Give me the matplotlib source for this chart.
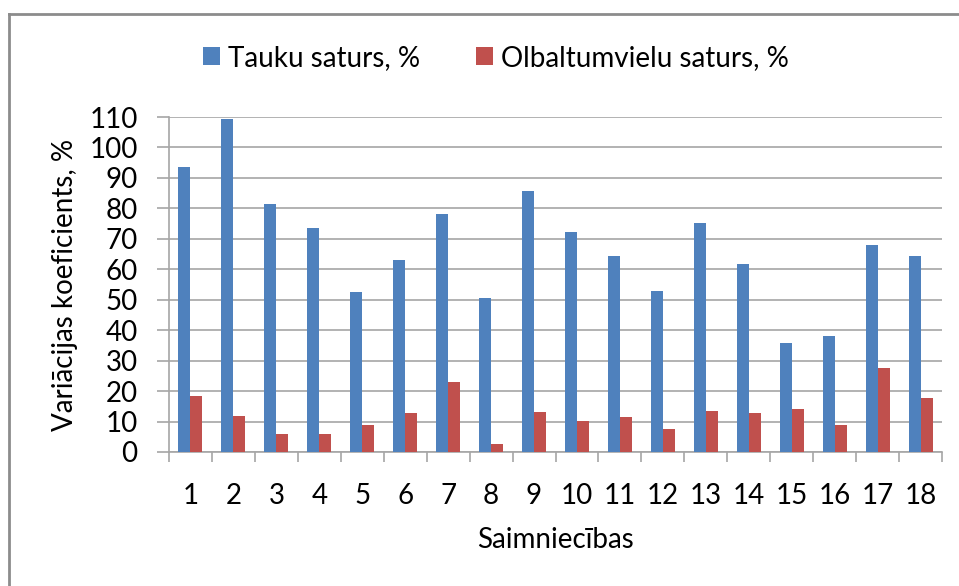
import matplotlib
matplotlib.use("Agg")
import matplotlib.pyplot as plt
import numpy as np
from matplotlib.lines import Line2D
from matplotlib.ticker import FixedLocator, NullFormatter

categories = [str(i) for i in range(1, 19)]
tauku = [93.6, 109.2, 81.3, 73.7, 52.7, 63.2, 78.0, 50.6, 85.7,
         72.2, 64.2, 52.8, 75.2, 61.7, 35.9, 38.0, 67.9, 64.2]
olbaltumvielu = [18.3, 11.8, 6.0, 6.0, 9.0, 12.7, 22.9, 2.6, 13.1,
                 10.2, 11.4, 7.7, 13.6, 12.7, 14.0, 9.0, 27.5, 17.7]
series_names = ["Tauku saturs, %", "Olbaltumvielu saturs, %"]
yticks = list(range(0, 111, 10))

plt.rcParams['font.family'] = ['Lato', 'DejaVu Sans']

W, H = 959, 586
fig = plt.figure(figsize=(W / 100, H / 100), dpi=100)
ax = fig.add_axes([169 / W, (H - 452) / H, (942 - 169) / W, (452 - 117) / H])

x = np.arange(len(categories))
bw = 0.28
grid_c = '#a6a6a6'
ax.bar(x - bw / 2, tauku, width=bw, color='#4F81BD', label=series_names[0], zorder=3)
ax.bar(x + bw / 2, olbaltumvielu, width=bw, color='#C0504D', label=series_names[1], zorder=3)

ax.set_xlim(-0.5, len(categories) - 0.5)
ax.set_ylim(0, 110)
ax.set_yticks(yticks)
ax.set_xticks(x)
ax.set_xticklabels(categories)
ax.xaxis.set_minor_locator(FixedLocator(np.arange(-0.5, len(categories), 1.0)))
ax.xaxis.set_minor_formatter(NullFormatter())

ax.yaxis.grid(True, color=grid_c, linewidth=1.2, zorder=0)
ax.set_axisbelow(True)
for s in ['top', 'right']:
    ax.spines[s].set_visible(False)
for s in ['left', 'bottom']:
    ax.spines[s].set_color(grid_c)
    ax.spines[s].set_linewidth(1.2)

fs = 20
ax.tick_params(axis='x', which='major', length=0, pad=22, labelsize=fs)
ax.tick_params(axis='x', which='minor', length=7, width=1.2, color=grid_c, direction='out')
ax.tick_params(axis='y', length=8.5, width=1.2, color=grid_c, pad=14, labelsize=fs)

ax.set_xlabel("Saimniecības", fontsize=fs)
ax.xaxis.set_label_coords(0.5, -0.263)
ax.set_ylabel("Variācijas koeficients, %", fontsize=fs)
ax.yaxis.set_label_coords(-0.1345, 0.5)
ax.xaxis.label.set_va('center')
ax.yaxis.label.set_va('center')

fig.legend(loc='center', bbox_to_anchor=(496 / W, 1 - 58 / H), ncol=2, frameon=False,
           fontsize=fs, handlelength=0.6, handleheight=0.6, handletextpad=0.3,
           columnspacing=2.0)

# outer border (left and top only visible)
fig.add_artist(Line2D([9 / W, 9 / W], [0, 1 - 14 / H], color='#8c8c8c', linewidth=2,
                      transform=fig.transFigure))
fig.add_artist(Line2D([9 / W, 1], [1 - 14 / H, 1 - 14 / H], color='#8c8c8c', linewidth=2,
                      transform=fig.transFigure))

fig.savefig("out.png", dpi=100)
